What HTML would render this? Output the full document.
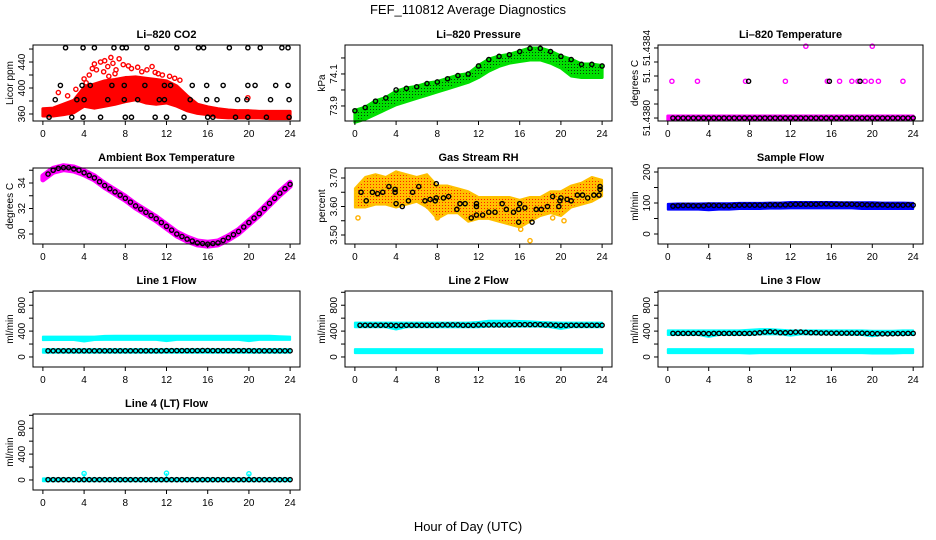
<!DOCTYPE html>
<html><head><meta charset="utf-8"><style>
html,body{margin:0;padding:0;background:#fff;}
svg{display:block;font-family:"Liberation Sans",sans-serif;}
.tk{font-size:10px;}
.tt{font-size:11px;font-weight:bold;}
</style></head><body>
<svg id="chart" width="936" height="540" viewBox="0 0 936 540">
<defs>
<pattern id="pGreen" width="3" height="3" patternUnits="userSpaceOnUse"><rect width="3" height="3" fill="#00e000"/><rect x="1" y="1" width="1" height="1" fill="#0a3a0a"/></pattern>
<pattern id="pOrange" width="3" height="3" patternUnits="userSpaceOnUse"><rect width="3" height="3" fill="#ffc000"/><rect x="1" y="1" width="1" height="1" fill="#ff2000"/></pattern>
</defs>
<text x="468" y="14" text-anchor="middle" font-size="13">FEF_110812  Average Diagnostics</text>
<text x="468" y="531" text-anchor="middle" font-size="13">Hour of Day (UTC)</text>
</svg>
<script>
const hours = [0,1,2,3,4,5,6,7,8,9,10,11,12,13,14,15,16,17,18,19,20,21,22,23,24];
const halfHours = [0.5,1,1.5,2,2.5,3,3.5,4,4.5,5,5.5,6,6.5,7,7.5,8,8.5,9,9.5,10,10.5,11,11.5,12,12.5,13,13.5,14,14.5,15,15.5,16,16.5,17,17.5,18,18.5,19,19.5,20,20.5,21,21.5,22,22.5,23,23.5,24];
const xTicks = [0,4,8,12,16,20,24];

// CO2
const co2Lo = [360,360,362,365,375,372,375,378,382,385,380,378,380,375,368,364,362,358,357,357,357,357,356,356,356];
const co2Hi = [365,366,372,378,398,403,408,410,413,414,412,410,408,400,385,372,368,365,363,362,362,361,361,361,361];
const co2RedT = [1.5,2.4,4,4.2,5,5.6,6,6.6,6.8,7.4,7.8,8.3,10.6,10.9,11.6,19.9,3.2,9.2,4.8,5.2,5.9,6.3,7.1,8.6,9.6,10.1,12.3,12.8,13.3,11.2,4.5,6.4,7.0];
const co2RedV = [393,388,414,408,437,440,442,447,438,445,436,434,433,424,420,385,398,432,430,428,425,433,428,430,425,428,418,415,412,422,420,418,422];
const co2BlackT = [2.2,3.9,5.0,6.9,7.7,8.1,10.1,13.0,15.1,15.6,18.1,19.9,21.1,23.2,23.8,
 1.7,3.8,4.6,6.7,7.9,9.9,11.8,12.4,14.5,15.9,17.5,19.9,20.6,22.6,23.8,
 1.2,3.3,4.0,6.3,7.9,9.2,11.3,11.8,14.3,15.9,16.9,18.9,19.8,22.1,23.9,
 0.6,2.8,3.9,5.6,8.0,8.6,10.9,12.0,13.7,16.0,16.5,18.7,19.9,21.7,23.9];
const co2BlackV = [462,462,462,462,462,462,462,462,462,462,462,462,462,462,462,
 404,404,404,404,404,404,404,404,404,404,404,404,404,404,404,
 382,382,382,382,382,382,382,382,382,382,382,382,382,382,382,
 355,355,355,355,355,355,355,355,355,355,355,355,355,355,355];

// Pressure
const presBlack = [73.87,73.89,73.93,73.95,74.00,74.01,74.02,74.04,74.05,74.07,74.09,74.10,74.15,74.19,74.21,74.22,74.24,74.26,74.26,74.24,74.21,74.19,74.16,74.16,74.15];
const presLo = [73.81,73.83,73.86,73.89,73.92,73.94,73.96,73.98,74.00,74.02,74.04,74.06,74.09,74.13,74.16,74.18,74.19,74.20,74.20,74.18,74.15,74.10,74.09,74.09,74.09];
const presHi = [73.86,73.88,73.92,73.94,73.98,74.00,74.01,74.03,74.04,74.06,74.08,74.09,74.14,74.18,74.20,74.21,74.23,74.25,74.25,74.23,74.20,74.18,74.15,74.15,74.14];

// Li-820 temperature
const tempMidPinkT = [0.4,2.9,7.6,11.5,15.6,16.8,18.0,18.6,19.3,19.9,20.6,23.0];
const tempMidBlackT = [7.9,15.8,18.8];
const tempTopPinkT = [13.5,20.0];
const tempBase = 51.4380, tempMid = 51.43821, tempTop = 51.43841;

// Ambient box temperature
const ambBand = [34.4,35.0,35.2,35.1,34.8,34.4,33.8,33.3,32.8,32.2,31.7,31.2,30.6,30.0,29.6,29.3,29.2,29.3,29.7,30.2,30.9,31.6,32.4,33.2,33.9];
const ambBlack = [34.7,35.0,35.15,35.2,35.2,35.1,35.0,34.8,34.6,34.4,34.1,33.8,33.55,33.3,33.05,32.8,32.5,32.2,31.95,31.7,31.45,31.2,30.9,30.6,30.3,30.0,29.8,29.6,29.45,29.3,29.25,29.2,29.25,29.3,29.5,29.7,29.95,30.2,30.55,30.9,31.25,31.6,32.0,32.4,32.8,33.2,33.55,33.9];

// Gas stream RH
const rhLo = [3.60,3.60,3.61,3.61,3.60,3.61,3.62,3.60,3.56,3.58,3.58,3.55,3.56,3.56,3.55,3.54,3.53,3.55,3.57,3.58,3.57,3.60,3.61,3.62,3.64];
const rhHi = [3.66,3.70,3.71,3.70,3.72,3.71,3.70,3.71,3.67,3.67,3.66,3.65,3.63,3.63,3.63,3.63,3.62,3.63,3.63,3.65,3.65,3.67,3.68,3.70,3.69];
const rhBlackT = [0.6,1.1,1.7,2.2,2.7,3.3,3.9,3.9,4.0,4.6,5.2,5.6,6.2,6.8,7.3,7.8,7.9,7.9,8.6,9.1,9.9,10.2,10.7,11.3,11.8,11.8,11.8,12.4,13.0,13.6,14.3,14.7,15.4,15.9,15.9,16.0,16.5,17.2,17.6,18.1,18.7,19.2,19.8,19.9,20.0,20.6,21.0,21.6,22.1,22.6,23.2,23.7,23.8,23.8];
const rhBlackV = [3.65,3.62,3.65,3.645,3.65,3.67,3.66,3.65,3.61,3.60,3.62,3.65,3.67,3.62,3.625,3.62,3.63,3.68,3.63,3.635,3.59,3.61,3.61,3.56,3.57,3.60,3.61,3.57,3.58,3.58,3.61,3.59,3.58,3.545,3.59,3.61,3.595,3.545,3.59,3.59,3.60,3.635,3.60,3.62,3.63,3.625,3.62,3.64,3.64,3.63,3.64,3.64,3.66,3.67];
const rhOrangeT = [0.3,7.1,16.1,17.0,8.0,19.2,20.3];
const rhOrangeV = [3.56,3.60,3.52,3.48,3.56,3.56,3.55];

// Sample flow
const sfLo = [82,82,82,82,80,82,82,84,84,84,85,85,86,86,86,86,86,86,86,84,84,84,84,84,84];
const sfHi = [94,95,95,95,96,96,96,97,97,97,98,98,100,100,100,100,100,99,99,99,99,98,98,98,97];
const sfBlack = [90,91,92,92,91,91,91,93,92,92,91,91,92,93,93,93,93,93,93,94,94,94,94,95,96,96,96,96,96,97,97,96,96,96,96,96,95,95,94,94,94,94,93,93,93,93,94,93];

// Line flows
const l1UpLo = [275,278,278,278,255,278,280,280,280,280,280,280,260,280,280,280,280,280,280,280,260,280,280,280,280];
const l1UpHi = [300,300,300,300,300,300,310,312,312,312,312,312,312,312,312,312,312,312,312,312,312,312,312,305,300];
const l1LoLo = [80,80,80,80,80,80,80,80,80,80,80,80,80,80,80,80,80,80,80,80,80,80,80,80,80];
const l1LoHi = [105,105,105,105,105,105,105,105,105,105,105,105,105,105,105,105,105,105,105,105,105,105,105,105,105];
const l1Black = [95,95,95,95,95,95,95,95,95,95,95,95,95,95,95,95,95,95,95,95,95,95,95,98,98,98,98,98,98,98,100,100,98,98,98,98,98,98,98,98,95,95,95,95,95,95,95,95];

const l2UpLo = [475,475,475,475,440,475,475,475,475,475,475,475,475,485,485,485,485,485,485,475,450,475,475,475,475];
const l2UpHi = [515,515,515,515,515,515,515,515,515,515,515,515,525,545,545,545,540,535,525,520,515,515,515,515,515];
const l2LoLo = [75,75,75,75,75,75,75,75,75,75,75,75,75,75,75,75,75,75,75,75,75,75,75,75,75];
const l2LoHi = [105,105,105,105,105,105,105,105,105,105,105,105,105,105,105,105,105,105,105,105,105,105,105,105,105];
const l2Black = [490,490,490,490,490,490,490,485,488,490,490,490,490,490,490,490,495,495,495,495,490,490,490,495,495,495,495,495,495,495,500,500,500,500,500,500,495,495,490,488,488,490,490,490,490,490,490,490];

const l3UpLo = [355,355,355,355,325,355,355,355,355,365,365,365,345,365,365,365,365,360,360,355,335,355,355,355,355];
const l3UpHi = [395,395,395,395,395,395,395,395,405,415,415,405,395,395,395,395,395,395,395,395,390,390,390,395,395];
const l3LoLo = [75,75,75,75,75,75,75,75,70,75,75,75,75,75,75,75,75,75,75,75,70,70,70,75,75];
const l3LoHi = [105,105,105,105,105,105,105,105,105,105,105,105,105,105,105,105,105,105,105,105,105,105,105,105,105];
const l3Black = [365,365,365,365,365,365,365,360,365,365,365,365,365,365,365,365,368,375,385,390,385,375,375,380,385,385,380,375,375,370,370,368,368,368,368,368,368,368,365,362,360,358,358,360,362,362,365,365];

const l4LoVal = [-5,-5,-5,-5,-5,-5,-5,-5,-5,-5,-5,-5,-5,-5,-5,-5,-5,-5,-5,-5,-5,-5,-5,-5,-5];
const l4HiVal = [10,10,10,10,10,10,10,10,10,10,10,10,10,10,10,10,10,10,10,10,10,10,10,10,10];
const l4Black = [5,5,5,5,5,5,5,5,5,5,5,5,5,5,5,5,5,5,5,5,5,5,5,5,5,5,5,5,5,5,5,5,5,5,5,5,5,5,5,5,5,5,5,5,5,5,5,5];
const l4SpikeT = [4,12,20];
const l4SpikeV = [100,105,95];

const flowTicks = [0,200,400,600,800,1000];
const flowLabels = ['0','','400','','800',''];

const svg = document.getElementById('chart');
const NS = 'http://www.w3.org/2000/svg';
const colL = [33,345,658], colR = [300,612,923];
const rowT = [45,168,291,414], rowB = [121,244,367,490];
const XMIN = -0.96, XMAX = 24.96;

function mk(tag, attrs, parent){
  const e = document.createElementNS(NS, tag);
  for (const k in attrs) e.setAttribute(k, attrs[k]);
  (parent||svg).appendChild(e);
  return e;
}

function panel(name, title, ytitle, col, row, ylim, yticks, ylabels){
  const g = mk('g', {});
  
  
  const L = colL[col], R = colR[col], T = rowT[row], B = rowB[row];
  const sx = v => L + (v - XMIN) / (XMAX - XMIN) * (R - L);
  const sy = v => B - (v - ylim[0]) / (ylim[1] - ylim[0]) * (B - T);
  const marks = mk('g', {}, g);
  
  
  const box = mk('rect', {x:L, y:T, width:R-L, height:B-T, fill:'none', stroke:'#000', 'stroke-width':1}, g);
  
  
  const t = mk('text', {x:(L+R)/2, y:T-7, 'text-anchor':'middle', class:'tt'}, g);
  t.textContent = title;
  
  
  const yt = mk('text', {transform:`translate(${L-20},${(T+B)/2}) rotate(-90)`, 'text-anchor':'middle', class:'tk'}, g);
  yt.textContent = ytitle;
  
  
  const xa = mk('g', {}, g);
  
  
  mk('line', {x1:sx(xTicks[0]), x2:sx(xTicks[xTicks.length-1]), y1:B, y2:B, stroke:'#000'}, xa);
  xTicks.forEach(v => {
    mk('line', {x1:sx(v), x2:sx(v), y1:B, y2:B+4, stroke:'#000'}, xa);
    const lt = mk('text', {x:sx(v), y:B+16, 'text-anchor':'middle', class:'tk'}, xa);
    lt.textContent = v;
    
    
  });
  const ya = mk('g', {}, g);
  
  
  yticks.forEach((v, i) => {
    mk('line', {x1:L-4, x2:L, y1:sy(v), y2:sy(v), stroke:'#000'}, ya);
    if (ylabels[i]) {
      const lt = mk('text', {transform:`translate(${L-8},${sy(v)}) rotate(-90)`, 'text-anchor':'middle', class:'tk'}, ya);
      lt.textContent = ylabels[i];
      
      
    }
  });
  return {g: marks, sx, sy};
}

function band(p, ts, lo, hi, fill, name, pad, sw){
  pad = (pad === undefined) ? 2 : pad;
  sw = (sw === undefined) ? 3 : sw;
  let d = '';
  ts.forEach((t, i) => { d += (i ? 'L' : 'M') + p.sx(t) + ',' + (p.sy(hi[i]) - pad) + ' '; });
  for (let i = ts.length - 1; i >= 0; i--) d += 'L' + p.sx(ts[i]) + ',' + (p.sy(lo[i]) + pad) + ' ';
  const sc = fill === 'url(#pGreen)' ? '#00e000' : (fill === 'url(#pOrange)' ? '#ffc000' : fill);
  const e = mk('path', {d: d + 'Z', fill: fill, stroke: sc, 'stroke-width': sw, 'stroke-linejoin':'round'}, p.g);
  
  
}

function pts(p, ts, vs, color, name, r){
  ts.forEach((t, i) => {
    const c = mk('circle', {cx:p.sx(t), cy:p.sy(vs[i]), r:r||2.1, fill:'none', stroke:color, 'stroke-width':1.4}, p.g);
    
    
  });
}

function constArr(n, v){ const a = []; for (let i = 0; i < n; i++) a.push(v); return a; }

// Row 1
let p = panel('co2', 'Li\u2013820 CO2', 'Licor ppm', 0, 0, [349.2, 466.2], [360,380,400,420,440,460], ['360','','400','','440','']);
band(p, hours, co2Lo, co2Hi, '#ff0000', 'co2-red-band');
pts(p, co2RedT, co2RedV, '#ff0000', 'co2-red-point');
pts(p, co2BlackT, co2BlackV, '#000', 'co2-black-point');

p = panel('pressure', 'Li\u2013820 Pressure', 'kPa', 1, 0, [73.806, 74.281], [73.9,74.0,74.1,74.2], ['73.9','','74.1','']);
band(p, hours, presLo, presHi, 'url(#pGreen)', 'pressure-green-band');
pts(p, hours, presBlack, '#000', 'pressure-black-point');

p = panel('li820-temp', 'Li\u2013820 Temperature', 'degrees C', 2, 0, [51.437983, 51.438417], [51.4380,51.43808,51.43816,51.43824,51.43832,51.4384], ['51.4380','','','51.','','51.4384']);
band(p, hours, constArr(25, tempBase), constArr(25, tempBase), '#ff00ff', 'temp-pink-band');
pts(p, halfHours, constArr(48, tempBase), '#000', 'temp-black-point');
pts(p, tempMidPinkT, constArr(tempMidPinkT.length, tempMid), '#ff00ff', 'temp-pink-point');
pts(p, tempMidBlackT, constArr(tempMidBlackT.length, tempMid), '#000', 'temp-black-point');
pts(p, tempTopPinkT, constArr(tempTopPinkT.length, tempTop), '#ff00ff', 'temp-pink-point');

// Row 2
p = panel('ambient', 'Ambient Box Temperature', 'degrees C', 0, 1, [29.216, 35.176], [30,31,32,33,34,35], ['30','','32','','34','']);
band(p, hours, ambBand, ambBand, '#ff00ff', 'ambient-pink-band', 2, 5);
pts(p, halfHours, ambBlack, '#000', 'ambient-black-point');

p = panel('rh', 'Gas Stream RH', 'percent', 1, 1, [3.4684, 3.7351], [3.50,3.55,3.60,3.65,3.70], ['3.50','','3.60','','3.70']);
band(p, hours, rhLo, rhHi, 'url(#pOrange)', 'rh-orange-band', 1, 2);
pts(p, rhOrangeT, rhOrangeV, '#ffb000', 'rh-orange-point');
pts(p, rhBlackT, rhBlackV, '#000', 'rh-black-point');

p = panel('sample-flow', 'Sample Flow', 'ml/min', 2, 1, [-32.3, 212.9], [0,50,100,150,200], ['0','','100','','200']);
band(p, hours, sfLo, sfHi, '#0000ff', 'sample-blue-band', 1, 2);
pts(p, halfHours, sfBlack, '#000', 'sample-black-point');

// Row 3
p = panel('line1', 'Line 1 Flow', 'ml/min', 0, 2, [-155, 1020], flowTicks, flowLabels);
band(p, hours, l1UpLo, l1UpHi, '#00ffff', 'line1-cyan-upper-band', 1, 2);
band(p, hours, l1LoLo, l1LoHi, '#00ffff', 'line1-cyan-lower-band', 1, 2);
pts(p, halfHours, l1Black, '#000', 'line1-black-point');

p = panel('line2', 'Line 2 Flow', 'ml/min', 1, 2, [-155, 1020], flowTicks, flowLabels);
band(p, hours, l2UpLo, l2UpHi, '#00ffff', 'line2-cyan-upper-band', 1, 2);
band(p, hours, l2LoLo, l2LoHi, '#00ffff', 'line2-cyan-lower-band', 1, 2);
pts(p, halfHours, l2Black, '#000', 'line2-black-point');

p = panel('line3', 'Line 3 Flow', 'ml/min', 2, 2, [-155, 1020], flowTicks, flowLabels);
band(p, hours, l3UpLo, l3UpHi, '#00ffff', 'line3-cyan-upper-band', 1, 2);
band(p, hours, l3LoLo, l3LoHi, '#00ffff', 'line3-cyan-lower-band', 1, 2);
pts(p, halfHours, l3Black, '#000', 'line3-black-point');

// Row 4
p = panel('line4', 'Line 4 (LT) Flow', 'ml/min', 0, 3, [-155, 1020], flowTicks, flowLabels);
band(p, hours, l4LoVal, l4HiVal, '#00ffff', 'line4-cyan-band', 1, 2);
l4SpikeT.forEach((t, i) => {
  const ln = mk('line', {x1:p.sx(t), x2:p.sx(t), y1:p.sy(0), y2:p.sy(l4SpikeV[i]), stroke:'#00ffff', 'stroke-width':1.5}, p.g);
  
  
});
pts(p, l4SpikeT, l4SpikeV, '#00ffff', 'line4-cyan-spike-point');
pts(p, halfHours, l4Black, '#000', 'line4-black-point');
</script>
</body></html>
